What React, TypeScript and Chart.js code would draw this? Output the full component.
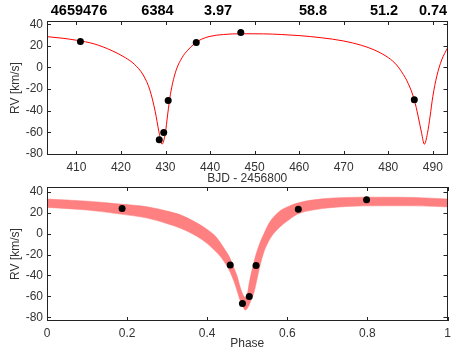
import React, { useEffect, useRef } from 'react';
import { Chart, registerables } from 'chart.js';

Chart.register(...registerables);

// Header values shown above the top panel
const headerLabels = ['4659476', '6384', '3.97', '58.8', '51.2', '0.74'];

// Tick values
const bjdTicks = [410, 420, 430, 440, 450, 460, 470, 480, 490];
const rvTicks = [-80, -60, -40, -20, 0, 20, 40];
const phaseTicks = [0, 0.2, 0.4, 0.6, 0.8, 1];

// Top panel: RV model vs BJD - 2456800
const bjdModel = [403.4, 407, 410, 414, 418, 421, 423, 425, 426.5, 427.7, 428.5, 429.2, 429.95, 430.5, 431.1, 432.2, 433.7, 435, 436.5, 438, 440, 443, 447, 452, 456, 460, 465, 470, 474, 477, 479.5, 481.5, 483, 484.5, 485.85, 486.7, 487.5, 488.1, 488.8, 489.4, 490, 490.9, 492, 493.3];
const rvModel = [28.5, 27, 25.2, 21.8, 15.5, 9, 3, -7, -21, -41, -59, -71, -61, -43, -25, -5, 9, 16, 22, 26, 28.8, 30.5, 31.2, 31.1, 30.5, 29.5, 27.5, 24.5, 20.5, 16, 10.5, 4, -4, -15, -30, -45, -61, -71, -61, -45, -27, -8, 7, 18];

// Observations
const bjdObs = [410.9, 428.6, 429.6, 430.6, 436.9, 446.9, 485.85];
const rvObs = [24, -66.8, -60.2, -30.6, 23.2, 32.3, -29.9];
const phaseObs = [0.1875, 0.488, 0.505, 0.522, 0.6275, 0.798, 0.4575];

// Bottom panel: model band vs phase
const phaseGrid = [0, 0.1, 0.183, 0.25, 0.3, 0.333, 0.375, 0.4, 0.417, 0.43, 0.442, 0.455, 0.467, 0.475, 0.483, 0.49, 0.495, 0.5, 0.505, 0.51, 0.517, 0.525, 0.533, 0.542, 0.55, 0.558, 0.567, 0.583, 0.6, 0.625, 0.667, 0.75, 0.833, 0.917, 1.0];
const bandUpper = [33, 31, 28.2, 25.6, 21.5, 17.9, 10, 4, -1.2, -7, -13.9, -22, -33, -41, -52, -59, -61, -58, -47, -38, -26.7, -16, -7.6, 0, 6.8, 12, 16.3, 22, 25.5, 29.1, 32.3, 34.5, 34.8, 34.5, 33];
const bandLower = [25, 22.5, 18.6, 14.8, 9.5, 5.2, -2.8, -9.5, -15.5, -20.5, -26.7, -35, -45.8, -55, -64.9, -70.5, -73, -71.5, -68, -63, -56, -42.5, -29, -17.1, -10, -4.3, 0.5, 6.8, 12, 18.5, 22.7, 25.9, 26.5, 26.5, 25.5];

const FONT = '"Liberation Sans", Arial, Helvetica, sans-serif';
const TEXT = '#333';

const framePlugin = {
  id: 'frame',
  afterDraw(chart: any) {
    const { ctx, chartArea: a, scales } = chart;
    const xs = scales.x;
    const ys = scales.y;
    ctx.save();
    ctx.strokeStyle = '#222';
    ctx.lineWidth = 1;
    ctx.beginPath();
    for (const t of xs.ticks) {
      const px = Math.round(xs.getPixelForValue(t.value)) + 0.5;
      ctx.moveTo(px, a.bottom);
      ctx.lineTo(px, a.bottom - 4);
      ctx.moveTo(px, a.top);
      ctx.lineTo(px, a.top + 4);
    }
    for (const t of ys.ticks) {
      const py = Math.round(ys.getPixelForValue(t.value)) + 0.5;
      ctx.moveTo(a.left, py);
      ctx.lineTo(a.left + 4, py);
      ctx.moveTo(a.right, py);
      ctx.lineTo(a.right - 4, py);
    }
    ctx.stroke();
    ctx.strokeRect(Math.round(a.left) + 0.5, Math.round(a.top) + 0.5, Math.round(a.right - a.left) - 1, Math.round(a.bottom - a.top) - 1);
    ctx.restore();
  },
};

const headerX = [79, 157.5, 218, 313, 384, 433];
const headerPlugin = {
  id: 'header',
  afterDraw(chart: any) {
    const { ctx } = chart;
    ctx.save();
    ctx.fillStyle = '#000';
    ctx.font = `bold 14.5px ${FONT}`;
    ctx.textAlign = 'center';
    ctx.textBaseline = 'middle';
    headerLabels.forEach((t, i) => ctx.fillText(t, headerX[i], 10.5));
    ctx.restore();
  },
};

function axis(min: number, max: number, tickValues: number[], title: string, size: number, isX: boolean, titlePad: any) {
  return {
    type: 'linear' as const,
    min,
    max,
    afterBuildTicks(s: any) {
      s.ticks = tickValues.map((v) => ({ value: v }));
    },
    ticks: {
      padding: isX ? 5 : 4,
      color: TEXT,
      font: { family: FONT, size: 12 },
      maxRotation: 0,
      autoSkip: false,
      callback: (v: number) => String(Math.round(v * 1000) / 1000),
    },
    grid: { display: false, drawTicks: false },
    border: { display: false },
    title: { display: true, text: title, color: TEXT, font: { family: FONT, size: 12 }, padding: titlePad },
    afterFit(s: any) {
      if (isX) {
        s.height = size;
        s.paddingLeft = 0;
        s.paddingRight = 0;
      } else {
        s.width = size;
        s.paddingTop = 0;
        s.paddingBottom = 0;
      }
    },
  };
}

export default function App() {
  const topRef = useRef<HTMLCanvasElement>(null);
  const botRef = useRef<HTMLCanvasElement>(null);

  useEffect(() => {
    const common = {
      animation: false as const,
      responsive: true,
      maintainAspectRatio: false,
      events: [] as any[],
      plugins: { legend: { display: false }, tooltip: { enabled: false } },
    };

    const top = new Chart(topRef.current!, {
      type: 'line',
      data: {
        datasets: [
          {
            data: bjdObs.map((x, i) => ({ x, y: rvObs[i] })),
            showLine: false,
            pointRadius: 3.5,
            pointBackgroundColor: '#000',
            pointBorderWidth: 0,
            borderColor: '#000',
          },
          {
            data: bjdModel.map((x, i) => ({ x, y: rvModel[i] })),
            borderColor: '#ff0000',
            borderWidth: 1,
            pointRadius: 0,
            cubicInterpolationMode: 'monotone',
            fill: false,
          },
        ],
      },
      options: {
        ...common,
        layout: { padding: { top: 21, right: 23.5, left: 0, bottom: 0 } },
        scales: {
          x: axis(403.4, 493.3, bjdTicks, 'BJD - 2456800', 31, true, { top: 0, bottom: 0.5 }),
          y: axis(-81, 43, rvTicks, 'RV [km/s]', 47, false, { top: 8.3, bottom: 0 }),
        },
      } as any,
      plugins: [framePlugin, headerPlugin],
    });

    const bot = new Chart(botRef.current!, {
      type: 'line',
      data: {
        datasets: [
          {
            data: phaseObs.map((x, i) => ({ x, y: rvObs[i] })),
            showLine: false,
            pointRadius: 3.5,
            pointBackgroundColor: '#000',
            pointBorderWidth: 0,
            borderColor: '#000',
          },
          {
            data: phaseGrid.map((x, i) => ({ x, y: bandUpper[i] })),
            borderColor: 'rgba(255,110,110,0.9)',
            borderWidth: 0.5,
            pointRadius: 0,
            backgroundColor: '#ff8080',
            cubicInterpolationMode: 'monotone',
            fill: '+1',
          },
          {
            data: phaseGrid.map((x, i) => ({ x, y: bandLower[i] })),
            borderColor: 'rgba(255,110,110,0.9)',
            borderWidth: 0.5,
            pointRadius: 0,
            cubicInterpolationMode: 'monotone',
            fill: false,
          },
        ],
      },
      options: {
        ...common,
        layout: { padding: { top: 7, right: 23.5, left: 0, bottom: 0 } },
        scales: {
          x: axis(0, 1, phaseTicks, 'Phase', 32, true, { top: 0, bottom: 2.5 }),
          y: axis(-83.5, 44.5, rvTicks, 'RV [km/s]', 47, false, { top: 8.3, bottom: 0 }),
        },
      } as any,
      plugins: [framePlugin],
    });

    return () => {
      top.destroy();
      bot.destroy();
    };
  }, []);

  return (
    <div style={{ position: 'fixed', left: 0, top: 0, width: 471, height: 353, background: '#fff' }}>
      <div style={{ position: 'absolute', left: 0, top: 0, width: 471, height: 186 }}>
        <canvas ref={topRef} />
      </div>
      <div style={{ position: 'absolute', left: 0, top: 180, width: 471, height: 173 }}>
        <canvas ref={botRef} />
      </div>
    </div>
  );
}
